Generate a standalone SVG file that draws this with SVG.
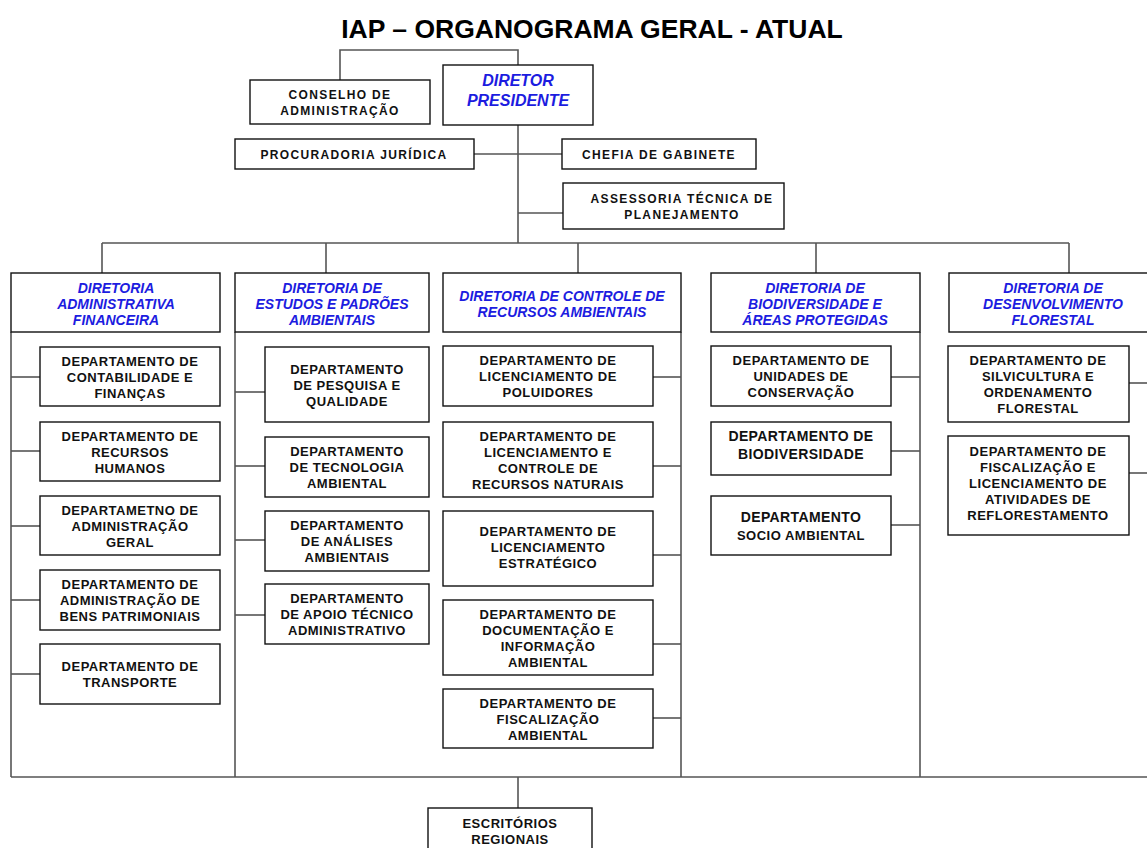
<svg xmlns="http://www.w3.org/2000/svg" width="1147" height="848" viewBox="0 0 1147 848">
<style>
.bg{fill:#fff}
.box{fill:#fff;stroke:#111;stroke-width:1.4}
.ln{fill:none;stroke:#555;stroke-width:1.6}
.t{font-family:"Liberation Sans",Arial,sans-serif;font-weight:bold;font-size:13px;letter-spacing:0.5px;fill:#111;text-anchor:middle}
.ts{font-family:"Liberation Sans",Arial,sans-serif;font-weight:bold;font-size:12px;letter-spacing:1.35px;fill:#111;text-anchor:middle}
.b{font-family:"Liberation Sans",Arial,sans-serif;font-weight:bold;font-style:italic;font-size:14px;fill:#1c1ce0;text-anchor:middle}
.title{font-family:"Liberation Sans",Arial,sans-serif;font-weight:bold;font-size:26.5px;fill:#000;text-anchor:middle}
</style>
<rect class="bg" x="0" y="0" width="1147" height="848"/>
<text class="title" x="592" y="38">IAP – ORGANOGRAMA GERAL - ATUAL</text>

<g id="connectors">
<polyline class="ln" points="340,80 340,50 518,50 518,65"/>
<line class="ln" x1="518" y1="125" x2="518" y2="243"/>
<line class="ln" x1="474" y1="154" x2="562" y2="154"/>
<line class="ln" x1="518" y1="213" x2="563" y2="213"/>
<line class="ln" x1="102" y1="243" x2="1069" y2="243"/>
<line class="ln" x1="102" y1="243" x2="102" y2="273"/>
<line class="ln" x1="326" y1="243" x2="326" y2="273"/>
<line class="ln" x1="578" y1="243" x2="578" y2="273"/>
<line class="ln" x1="816" y1="243" x2="816" y2="273"/>
<line class="ln" x1="1069" y1="243" x2="1069" y2="273"/>
<!-- column 1 -->
<line class="ln" x1="11" y1="332" x2="11" y2="777"/>
<line class="ln" x1="11" y1="377" x2="40" y2="377"/>
<line class="ln" x1="11" y1="451" x2="40" y2="451"/>
<line class="ln" x1="11" y1="526" x2="40" y2="526"/>
<line class="ln" x1="11" y1="600" x2="40" y2="600"/>
<line class="ln" x1="11" y1="674" x2="40" y2="674"/>
<!-- column 2 -->
<line class="ln" x1="235" y1="332" x2="235" y2="777"/>
<line class="ln" x1="235" y1="392" x2="265" y2="392"/>
<line class="ln" x1="235" y1="466" x2="265" y2="466"/>
<line class="ln" x1="235" y1="540" x2="265" y2="540"/>
<line class="ln" x1="235" y1="615" x2="265" y2="615"/>
<!-- column 3 -->
<line class="ln" x1="681" y1="332" x2="681" y2="777"/>
<line class="ln" x1="653" y1="377" x2="681" y2="377"/>
<line class="ln" x1="653" y1="466" x2="681" y2="466"/>
<line class="ln" x1="653" y1="555" x2="681" y2="555"/>
<line class="ln" x1="653" y1="644" x2="681" y2="644"/>
<line class="ln" x1="653" y1="718" x2="681" y2="718"/>
<!-- column 4 -->
<line class="ln" x1="920" y1="332" x2="920" y2="777"/>
<line class="ln" x1="891" y1="377" x2="920" y2="377"/>
<line class="ln" x1="891" y1="451" x2="920" y2="451"/>
<line class="ln" x1="891" y1="525" x2="920" y2="525"/>
<!-- column 5 -->
<line class="ln" x1="1129" y1="383" x2="1147" y2="383"/>
<line class="ln" x1="1129" y1="473" x2="1147" y2="473"/>
<!-- bottom -->
<line class="ln" x1="11" y1="777" x2="1147" y2="777"/>
<line class="ln" x1="518" y1="777" x2="518" y2="808"/>
</g>

<g id="conselho"><rect class="box" x="250" y="80" width="180" height="44"/>
<text class="ts" x="340"><tspan x="340" y="99">CONSELHO DE</tspan><tspan x="340" y="115">ADMINISTRAÇÃO</tspan></text></g>
<g id="diretor"><rect class="box" x="443" y="65" width="150" height="60"/>
<text class="b" style="font-size:16px"><tspan x="518" y="86">DIRETOR</tspan><tspan x="518" y="106">PRESIDENTE</tspan></text></g>
<g id="procuradoria"><rect class="box" x="235" y="139" width="239" height="30"/>
<text class="ts" x="354" y="158.5">PROCURADORIA JURÍDICA</text></g>
<g id="chefia"><rect class="box" x="562" y="139" width="194" height="30"/>
<text class="ts" x="659" y="158.5">CHEFIA DE GABINETE</text></g>
<g id="assessoria"><rect class="box" x="563" y="183" width="221" height="46"/>
<text class="ts"><tspan x="682" y="202.5">ASSESSORIA TÉCNICA DE</tspan><tspan x="682" y="218.5">PLANEJAMENTO</tspan></text></g>

<g id="dir-adm"><rect class="box" x="11" y="273" width="209" height="59"/>
<text class="b"><tspan x="116" y="293">DIRETORIA</tspan><tspan x="116" y="309">ADMINISTRATIVA</tspan><tspan x="116" y="325">FINANCEIRA</tspan></text></g>
<g id="dir-estudos"><rect class="box" x="235" y="273" width="194" height="59"/>
<text class="b"><tspan x="332" y="293">DIRETORIA DE</tspan><tspan x="332" y="309">ESTUDOS E PADRÕES</tspan><tspan x="332" y="325">AMBIENTAIS</tspan></text></g>
<g id="dir-controle"><rect class="box" x="443" y="273" width="238" height="59"/>
<text class="b"><tspan x="562" y="301">DIRETORIA DE CONTROLE DE</tspan><tspan x="562" y="317">RECURSOS AMBIENTAIS</tspan></text></g>
<g id="dir-biodiv"><rect class="box" x="711" y="273" width="209" height="59"/>
<text class="b"><tspan x="815" y="293">DIRETORIA DE</tspan><tspan x="815" y="309">BIODIVERSIDADE E</tspan><tspan x="815" y="325">ÁREAS PROTEGIDAS</tspan></text></g>
<g id="dir-florestal"><rect class="box" x="949" y="273" width="210" height="59"/>
<text class="b"><tspan x="1053" y="293">DIRETORIA DE</tspan><tspan x="1053" y="309">DESENVOLVIMENTO</tspan><tspan x="1053" y="325">FLORESTAL</tspan></text></g>

<g id="d-contab"><rect class="box" x="40" y="347" width="180" height="59"/>
<text class="t"><tspan x="130" y="366">DEPARTAMENTO DE</tspan><tspan x="130" y="382">CONTABILIDADE E</tspan><tspan x="130" y="398">FINANÇAS</tspan></text></g>
<g id="d-rh"><rect class="box" x="40" y="422" width="180" height="59"/>
<text class="t"><tspan x="130" y="441">DEPARTAMENTO DE</tspan><tspan x="130" y="457">RECURSOS</tspan><tspan x="130" y="473">HUMANOS</tspan></text></g>
<g id="d-admgeral"><rect class="box" x="40" y="496" width="180" height="59"/>
<text class="t"><tspan x="130" y="515">DEPARTAMETNO DE</tspan><tspan x="130" y="531">ADMINISTRAÇÃO</tspan><tspan x="130" y="547">GERAL</tspan></text></g>
<g id="d-bens"><rect class="box" x="40" y="570" width="180" height="60"/>
<text class="t"><tspan x="130" y="589">DEPARTAMENTO DE</tspan><tspan x="130" y="605">ADMINISTRAÇÃO DE</tspan><tspan x="130" y="621">BENS PATRIMONIAIS</tspan></text></g>
<g id="d-transporte"><rect class="box" x="40" y="644" width="180" height="60"/>
<text class="t"><tspan x="130" y="671">DEPARTAMENTO DE</tspan><tspan x="130" y="687">TRANSPORTE</tspan></text></g>

<g id="d-pesquisa"><rect class="box" x="265" y="347" width="164" height="75"/>
<text class="t"><tspan x="347" y="374">DEPARTAMENTO</tspan><tspan x="347" y="390">DE PESQUISA E</tspan><tspan x="347" y="406">QUALIDADE</tspan></text></g>
<g id="d-tecnologia"><rect class="box" x="265" y="437" width="164" height="60"/>
<text class="t"><tspan x="347" y="456">DEPARTAMENTO</tspan><tspan x="347" y="472">DE TECNOLOGIA</tspan><tspan x="347" y="488">AMBIENTAL</tspan></text></g>
<g id="d-analises"><rect class="box" x="265" y="511" width="164" height="60"/>
<text class="t"><tspan x="347" y="530">DEPARTAMENTO</tspan><tspan x="347" y="546">DE ANÁLISES</tspan><tspan x="347" y="562">AMBIENTAIS</tspan></text></g>
<g id="d-apoio"><rect class="box" x="265" y="584" width="164" height="60"/>
<text class="t"><tspan x="347" y="603">DEPARTAMENTO</tspan><tspan x="347" y="619">DE APOIO TÉCNICO</tspan><tspan x="347" y="635">ADMINISTRATIVO</tspan></text></g>

<g id="d-poluidores"><rect class="box" x="443" y="346" width="210" height="60"/>
<text class="t"><tspan x="548" y="365">DEPARTAMENTO DE</tspan><tspan x="548" y="381">LICENCIAMENTO DE</tspan><tspan x="548" y="397">POLUIDORES</tspan></text></g>
<g id="d-licenciamento"><rect class="box" x="443" y="422" width="210" height="75"/>
<text class="t"><tspan x="548" y="441">DEPARTAMENTO DE</tspan><tspan x="548" y="457">LICENCIAMENTO E</tspan><tspan x="548" y="473">CONTROLE DE</tspan><tspan x="548" y="489">RECURSOS NATURAIS</tspan></text></g>
<g id="d-estrategico"><rect class="box" x="443" y="511" width="210" height="75"/>
<text class="t"><tspan x="548" y="536">DEPARTAMENTO DE</tspan><tspan x="548" y="552">LICENCIAMENTO</tspan><tspan x="548" y="568">ESTRATÉGICO</tspan></text></g>
<g id="d-documentacao"><rect class="box" x="443" y="600" width="210" height="75"/>
<text class="t"><tspan x="548" y="619">DEPARTAMENTO DE</tspan><tspan x="548" y="635">DOCUMENTAÇÃO E</tspan><tspan x="548" y="651">INFORMAÇÃO</tspan><tspan x="548" y="667">AMBIENTAL</tspan></text></g>
<g id="d-fiscalizacao"><rect class="box" x="443" y="689" width="210" height="59"/>
<text class="t"><tspan x="548" y="708">DEPARTAMENTO DE</tspan><tspan x="548" y="724">FISCALIZAÇÃO</tspan><tspan x="548" y="740">AMBIENTAL</tspan></text></g>

<g id="d-unidades"><rect class="box" x="711" y="346" width="180" height="60"/>
<text class="t"><tspan x="801" y="365">DEPARTAMENTO DE</tspan><tspan x="801" y="381">UNIDADES DE</tspan><tspan x="801" y="397">CONSERVAÇÃO</tspan></text></g>
<g id="d-biodiversidade"><rect class="box" x="711" y="422" width="180" height="53"/>
<text class="t" style="font-size:14px;letter-spacing:0.4px"><tspan x="801" y="441">DEPARTAMENTO DE</tspan><tspan x="801" y="459">BIODIVERSIDADE</tspan></text></g>
<g id="d-socio"><rect class="box" x="711" y="496" width="180" height="59"/>
<text class="t"><tspan x="801" y="522" style="font-size:14px;letter-spacing:0.4px">DEPARTAMENTO</tspan><tspan x="801" y="540">SOCIO AMBIENTAL</tspan></text></g>

<g id="d-silvicultura"><rect class="box" x="948" y="346" width="181" height="76"/>
<text class="t"><tspan x="1038" y="365">DEPARTAMENTO DE</tspan><tspan x="1038" y="381">SILVICULTURA E</tspan><tspan x="1038" y="397">ORDENAMENTO</tspan><tspan x="1038" y="413">FLORESTAL</tspan></text></g>
<g id="d-reflorestamento"><rect class="box" x="948" y="436" width="181" height="99"/>
<text class="t"><tspan x="1038" y="456">DEPARTAMENTO DE</tspan><tspan x="1038" y="472">FISCALIZAÇÃO E</tspan><tspan x="1038" y="488">LICENCIAMENTO DE</tspan><tspan x="1038" y="504">ATIVIDADES DE</tspan><tspan x="1038" y="520">REFLORESTAMENTO</tspan></text></g>

<g id="escritorios"><rect class="box" x="428" y="808" width="164" height="50"/>
<text class="t"><tspan x="510" y="828">ESCRITÓRIOS</tspan><tspan x="510" y="844">REGIONAIS</tspan></text></g>
</svg>
